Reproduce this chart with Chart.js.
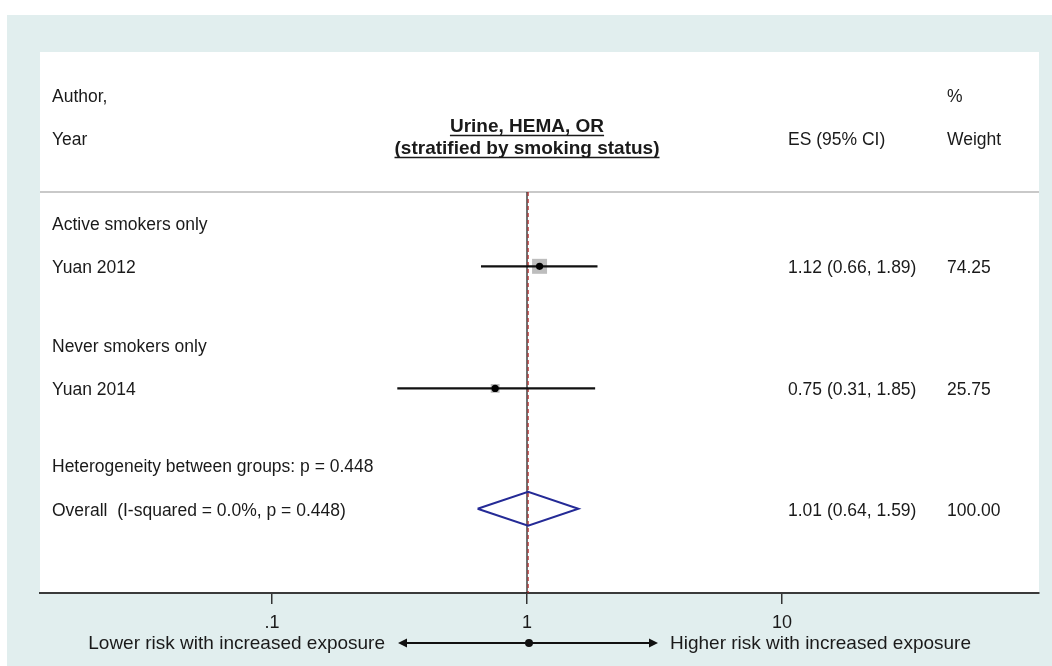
<!DOCTYPE html>
<html>
<head>
<meta charset="utf-8">
<script src="https://cdn.jsdelivr.net/npm/chart.js@4.4.0/dist/chart.umd.min.js"></script>
<style>
html,body{margin:0;padding:0;background:#ffffff;}
#wrap{width:1052px;height:666px;}
</style>
</head>
<body>
<div id="wrap"><canvas id="c" width="1052" height="666"></canvas></div>
<script>
// ---- data ----
const rowLabels = ["Active smokers only", "Yuan 2012", "Never smokers only", "Yuan 2014",
                   "Heterogeneity between groups: p = 0.448", "Overall  (I-squared = 0.0%, p = 0.448)"];
const rowKinds = ["group", "study", "group", "study", "note", "overall"];
const studyNames = ["Yuan 2012", "Yuan 2014"];
const studyES = [1.12, 0.75];
const studyLo = [0.66, 0.31];
const studyHi = [1.89, 1.85];
const studyWeight = [74.25, 25.75];
const esText = ["1.12 (0.66, 1.89)", "0.75 (0.31, 1.85)"];
const weightText = ["74.25", "25.75"];
const overallES = 1.01;
const overallLo = 0.64;
const overallHi = 1.59;
const overallEsText = "1.01 (0.64, 1.59)";
const overallWeightText = "100.00";
const tickValues = [0.1, 1, 10];
const tickLabels = [".1", "1", "10"];
const titleLines = ["Urine, HEMA, OR", "(stratified by smoking status)"];
const headLeft = ["Author,", "Year"];
const headES = "ES (95% CI)";
const headWeight = ["%", "Weight"];
const footLeft = "Lower risk with increased exposure";
const footRight = "Higher risk with increased exposure";

// ---- layout (row positions, not data) ----
const rowPos = [0, 1, 2.82, 3.82, 5.6, 6.6];
const studyRow = [1, 3.82];
const overallRow = 6.6;
const headerLineY = -0.716;
const yMin = -3.95, yMax = 8.545;
const xMin = Math.pow(10, -1.9098), xMax = Math.pow(10, 2.0078);
const FONT = '"Liberation Sans", Arial, Helvetica, sans-serif';

// ---- datasets built from data ----
const ciData = [];
studyES.forEach((e, i) => {
  ciData.push({x: studyLo[i], y: studyRow[i]});
  ciData.push({x: studyHi[i], y: studyRow[i]});
  ciData.push({x: null, y: null});
});
const maxW = Math.max(...studyWeight);
const squareRadius = studyWeight.map(w => 10.6 * Math.sqrt(w / maxW));
const dh = 0.39;
const diamond = [
  {x: overallLo, y: overallRow}, {x: overallES, y: overallRow - dh},
  {x: overallHi, y: overallRow}, {x: overallES, y: overallRow + dh},
  {x: overallLo, y: overallRow}
];

const bgPlugin = {
  id: 'bg',
  beforeDraw(chart) {
    const {ctx, chartArea: a, width, height} = chart;
    ctx.save();
    ctx.fillStyle = '#ffffff';
    ctx.fillRect(0, 0, width, height);
    ctx.fillStyle = '#e1eeee';
    ctx.fillRect(7, 15, width - 7, height - 15);
    ctx.fillStyle = '#ffffff';
    ctx.fillRect(a.left, a.top, a.right - a.left, a.bottom - a.top);
    // header separator
    const y = chart.scales.y.getPixelForValue(headerLineY);
    ctx.strokeStyle = '#c9c9c9';
    ctx.lineWidth = 2;
    ctx.beginPath(); ctx.moveTo(a.left, y); ctx.lineTo(a.right, y); ctx.stroke();
    ctx.restore();
  }
};

const textPlugin = {
  id: 'texts',
  afterDraw(chart) {
    const {ctx, chartArea: a, scales} = chart;
    const xs = scales.x, ys = scales.y;
    const colL = a.left + 12, colES = 788, colW = 947;
    ctx.save();
    ctx.fillStyle = '#1a1a1a';
    ctx.textBaseline = 'middle';
    ctx.font = '17.5px ' + FONT;
    ctx.textAlign = 'left';
    // header
    ctx.fillText(headLeft[0], colL, a.top + 45);
    ctx.fillText(headLeft[1], colL, a.top + 88);
    ctx.fillText(headES, colES, a.top + 88);
    ctx.fillText(headWeight[0], colW, a.top + 45);
    ctx.fillText(headWeight[1], colW, a.top + 88);
    // title
    ctx.font = 'bold 19px ' + FONT;
    ctx.textAlign = 'center';
    const cx = xs.getPixelForValue(1);
    const ty = [a.top + 75, a.top + 97];
    ctx.strokeStyle = '#1a1a1a';
    ctx.lineWidth = 1.5;
    titleLines.forEach((t, i) => {
      ctx.fillText(t, cx, ty[i]);
      const w = ctx.measureText(t).width;
      ctx.beginPath();
      ctx.moveTo(cx - w / 2, ty[i] + 8.5);
      ctx.lineTo(cx + w / 2, ty[i] + 8.5);
      ctx.stroke();
    });
    // rows
    ctx.font = '17.5px ' + FONT;
    ctx.textAlign = 'left';
    let si = 0;
    rowLabels.forEach((lab, i) => {
      const y = ys.getPixelForValue(rowPos[i]) + 2;
      ctx.fillText(lab, colL, y);
      if (rowKinds[i] === 'study') {
        ctx.fillText(esText[si], colES, y);
        ctx.fillText(weightText[si], colW, y);
        si++;
      } else if (rowKinds[i] === 'overall') {
        ctx.fillText(overallEsText, colES, y);
        ctx.fillText(overallWeightText, colW, y);
      }
    });
    // footer arrow
    const fy = 643;
    const p1 = xs.getPixelForValue(1);
    const l = p1 - 129, r = p1 + 131;
    ctx.strokeStyle = '#111';
    ctx.fillStyle = '#111';
    ctx.lineWidth = 2;
    ctx.beginPath(); ctx.moveTo(l + 4, fy); ctx.lineTo(r - 4, fy); ctx.stroke();
    ctx.beginPath(); ctx.moveTo(r, fy); ctx.lineTo(r - 9, fy - 4.5); ctx.lineTo(r - 9, fy + 4.5); ctx.closePath(); ctx.fill();
    ctx.beginPath(); ctx.moveTo(l, fy); ctx.lineTo(l + 9, fy - 4.5); ctx.lineTo(l + 9, fy + 4.5); ctx.closePath(); ctx.fill();
    ctx.beginPath(); ctx.arc(p1 + 2, fy, 4, 0, Math.PI * 2); ctx.fill();
    ctx.font = '19px ' + FONT;
    ctx.fillStyle = '#1a1a1a';
    ctx.textAlign = 'right';
    ctx.fillText(footLeft, l - 13, fy + 1);
    ctx.textAlign = 'left';
    ctx.fillText(footRight, r + 12, fy + 1);
    ctx.restore();
  }
};

new Chart(document.getElementById('c'), {
  type: 'scatter',
  data: {
    datasets: [
      {type: 'line', data: [{x: 1, y: headerLineY}, {x: 1, y: yMax}], borderColor: '#111', borderWidth: 1.2, pointRadius: 0, order: 6},
      {type: 'line', data: [{x: overallES, y: headerLineY}, {x: overallES, y: yMax}], borderColor: '#b52a2a', borderWidth: 1.2, borderDash: [4, 3], pointRadius: 0, order: 5},
      {type: 'scatter', data: studyES.map((e, i) => ({x: e, y: studyRow[i]})), pointStyle: 'rect', pointRadius: squareRadius, backgroundColor: '#bdbdbd', borderWidth: 0, order: 4},
      {type: 'line', data: ciData, borderColor: '#111', borderWidth: 2.2, pointRadius: 0, spanGaps: false, order: 3},
      {type: 'scatter', data: studyES.map((e, i) => ({x: e, y: studyRow[i]})), pointStyle: 'circle', pointRadius: 3.6, backgroundColor: '#000', borderWidth: 0, order: 2},
      {type: 'line', data: diamond, borderColor: '#242a96', borderWidth: 2, pointRadius: 0, fill: false, order: 1}
    ]
  },
  options: {
    responsive: false,
    animation: false,
    devicePixelRatio: 1,
    layout: {padding: {left: 40, right: 13, top: 52, bottom: 0}},
    plugins: {legend: {display: false}, tooltip: {enabled: false}},
    scales: {
      x: {
        type: 'logarithmic',
        min: xMin, max: xMax,
        afterBuildTicks: s => { s.ticks = tickValues.map(v => ({value: v})); },
        afterFit: s => { s.height = 73; },
        ticks: {
          callback: (v, i) => tickLabels[i],
          color: '#1a1a1a',
          font: {family: FONT, size: 18},
          padding: 8,
          maxRotation: 0, autoSkip: false
        },
        grid: {display: true, drawOnChartArea: false, drawTicks: true, tickLength: 11, color: '#333', lineWidth: 1.5},
        border: {display: true, color: '#3a3a3a', width: 2}
      },
      y: {
        type: 'linear', reverse: true, min: yMin, max: yMax, display: false
      }
    }
  },
  plugins: [bgPlugin, textPlugin]
});
</script>
</body>
</html>
